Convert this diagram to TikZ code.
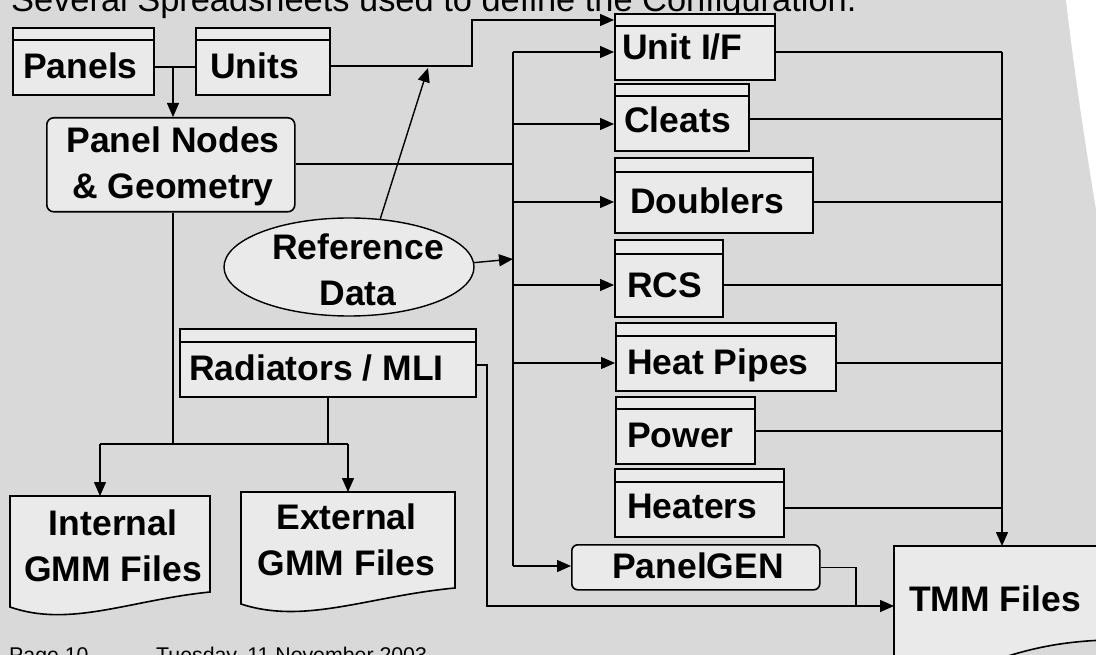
\documentclass[tikz,border=0pt]{standalone}
\usepackage{fontspec}
\setmainfont{Liberation Sans}
\usetikzlibrary{arrows.meta,calc,shapes.geometric}
\definecolor{slidebg}{HTML}{D9D9D9}
\definecolor{boxfill}{HTML}{EAEAEA}

% spreadsheet box: name, x, y, width, height, header strip height
\newcommand\sheetbox[6]{%
  \node[sheet, minimum width=#4pt, minimum height=#5pt] (#1) at (#2,#3) {};
  \draw[rule] ([yshift=-#6pt]#1.north west) -- ([yshift=-#6pt]#1.north east);
}

\begin{document}
\begin{tikzpicture}[x=1pt,y=-1pt,
  sheet/.style={draw, fill=boxfill, line width=1.6pt, rectangle, anchor=north west, inner sep=0pt},
  rule/.style={line width=1.6pt},
  lbl/.style={font=\fontsize{35.5}{45.5}\selectfont\bfseries, inner sep=0pt, align=center},
  conn/.style={line width=1.4pt},
  arr/.style={conn, -{Triangle[length=14pt,width=12pt]}},
  doc/.style={draw, fill=boxfill, line width=1.6pt},
  area/.style={inner sep=0pt, anchor=north west},
]
\useasboundingbox (0,0) rectangle (1096,655);
\clip (0,0) rectangle (1096,655);

% slide background
\fill[slidebg] (0,0) rectangle (1096,655);
\fill[white] (1066,0) .. controls (1074,70) and (1086,150) .. (1097,215) -- (1097,0) -- cycle;

% title and footer
\node[anchor=base west, inner sep=0pt, font=\fontsize{34.4}{40}\selectfont] (title) at (11,12) {Several Spreadsheets used to define the Configuration.};
\node[anchor=base west, inner sep=0pt, font=\fontsize{21.3}{25}\selectfont] (page) at (9,662) {Page 10};
\node[anchor=base west, inner sep=0pt, font=\fontsize{21.3}{25}\selectfont] (date) at (156,662) {Tuesday, 11 November 2003};

% spreadsheets
\sheetbox{panels}{12}{27}{141}{67}{13}
\node[lbl, anchor=base west] (panels-t) at (23,79) {Panels};
\sheetbox{units}{195}{27}{134}{67}{13}
\node[lbl, anchor=base west] (units-t) at (210,79) {Units};
\sheetbox{unitif}{614}{13}{160}{66}{13}
\node[lbl, anchor=base west] (unitif-t) at (622,60) {Unit I/F};
\sheetbox{cleats}{614}{83}{134}{67}{13}
\node[lbl, anchor=base west] (cleats-t) at (624,133) {Cleats};
\sheetbox{doublers}{614}{157}{198}{75}{15}
\node[lbl, anchor=base west] (doublers-t) at (630,214) {Doublers};
\sheetbox{rcs}{614}{239}{108}{77}{15}
\node[lbl, anchor=base west] (rcs-t) at (627,298) {RCS};
\sheetbox{hpipes}{615}{322}{220}{68}{14}
\node[lbl, anchor=base west] (hpipes-t) at (627,374) {Heat Pipes};
\sheetbox{power}{615}{396}{139}{67}{13}
\node[lbl, anchor=base west] (power-t) at (627,447) {Power};
\sheetbox{heaters}{614}{468}{169}{68}{14}
\node[lbl, anchor=base west] (heaters-t) at (627,518) {Heaters};
\sheetbox{rad}{179}{328}{296}{68}{14}
\node[lbl, anchor=base west] (rad-t) at (189,380) {Radiators / MLI};

% processes
\node[sheet, rounded corners=7pt, minimum width=248pt, minimum height=94pt] (pnodes) at (46,117) {};
\node[lbl] (pnodes-t) at (173,166.5) {Panel Nodes\\\& Geometry};
\node[sheet, rounded corners=6pt, minimum width=248pt, minimum height=45pt] (pgen) at (571,544) {};
\node[lbl, anchor=base] (pgen-t) at (698,578) {PanelGEN};

% reference data
\node[draw, fill=boxfill, line width=1.4pt, ellipse, minimum width=250pt, minimum height=98pt, inner sep=0pt] (ref) at (349,267) {};
\node[lbl] (ref-t) at (358,269.75) {Reference\\Data};

% output documents
\draw[doc] (10,496) -- (210,496) -- (210,592) .. controls (130,600) and (70,628) .. (10,607) -- cycle;
\node[area, minimum width=200pt, minimum height=96pt] (gmmint) at (10,496) {};
\node[lbl] (gmmint-t) at (113,545.75) {Internal\\GMM Files};
\draw[doc] (241,492) -- (455,492) -- (455,588) .. controls (369,596) and (305,625) .. (241,604) -- cycle;
\node[area, minimum width=214pt, minimum height=96pt] (gmmext) at (241,492) {};
\node[lbl] (gmmext-t) at (346.5,539.75) {External\\GMM Files};
\draw[doc] (894,546) -- (1140,546) -- (1140,640) .. controls (1070,638) and (1030,648) .. (990,662) -- (894,690) -- cycle;
\node[area, minimum width=246pt, minimum height=100pt] (tmm) at (894,546) {};
\node[lbl, anchor=base west] (tmm-t) at (909,611) {TMM Files};

% junction points
\coordinate (j1) at (173,67);
\coordinate (u1) at (472,66);
\coordinate (u2) at (472,20);
\coordinate (rj) at (428,68);
\coordinate (btop) at (513,52);
\coordinate (bpn) at (513,164);
\coordinate (bref) at (513,259);
\coordinate (bcl) at (513,124);
\coordinate (bdb) at (513,202);
\coordinate (brc) at (513,285);
\coordinate (bhp) at (513,363);
\coordinate (bbot) at (513,566);
\coordinate (rtop) at (1002,52);
\coordinate (j2) at (173,444);
\coordinate (j3) at (100,444);
\coordinate (j4) at (348,444);
\coordinate (m1) at (487,365);
\coordinate (m2) at (856,606);

% top left flows
\draw[conn] (panels.east |- j1) -- (units.west |- j1);
\draw[arr] (j1) -- (j1 |- pnodes.north);
\draw[arr] (units.east |- u1) -- (u1) -- (u2) -- (u2 -| unitif.west);
\draw[arr] (ref.57) -- (rj);

% distribution bus
\draw[conn] (pnodes.east |- bpn) -- (bpn);
\draw[conn] (btop) -- (bbot);
\draw[arr] (ref.2) -- (bref);
\draw[arr] (btop) -- (btop -| unitif.west);
\draw[arr] (bcl) -- (bcl -| cleats.west);
\draw[arr] (bdb) -- (bdb -| doublers.west);
\draw[arr] (brc) -- (brc -| rcs.west);
\draw[arr] (bhp) -- (bhp -| hpipes.west);
\draw[arr] (bbot) -- (bbot -| pgen.west);

% collection into TMM files
\draw[conn] (unitif.east |- rtop) -- (rtop);
\draw[conn] (cleats.east |- 0,119) -- (rtop |- 0,119);
\draw[conn] (doublers.east |- 0,202) -- (rtop |- 0,202);
\draw[conn] (rcs.east |- 0,285) -- (rtop |- 0,285);
\draw[conn] (hpipes.east |- 0,363) -- (rtop |- 0,363);
\draw[conn] (power.east |- 0,431) -- (rtop |- 0,431);
\draw[conn] (heaters.east |- 0,508) -- (rtop |- 0,508);
\draw[arr] (rtop) -- (rtop |- tmm.north);

% geometry outputs
\draw[conn] (j2 |- pnodes.south) -- (j2);
\draw[conn] (rad.south) -- (rad.south |- j2);
\draw[conn] (j3) -- (j4);
\draw[arr] (j3) -- (j3 |- gmmint.north);
\draw[arr] (j4) -- (j4 |- gmmext.north);

% radiators and PanelGEN into TMM files
\draw[arr] (rad.east |- m1) -- (m1) -- (m1 |- m2) -- (m2 -| tmm.west);
\draw[conn] (pgen.east) -- (pgen.east -| m2) -- (m2);
\end{tikzpicture}
\end{document}
